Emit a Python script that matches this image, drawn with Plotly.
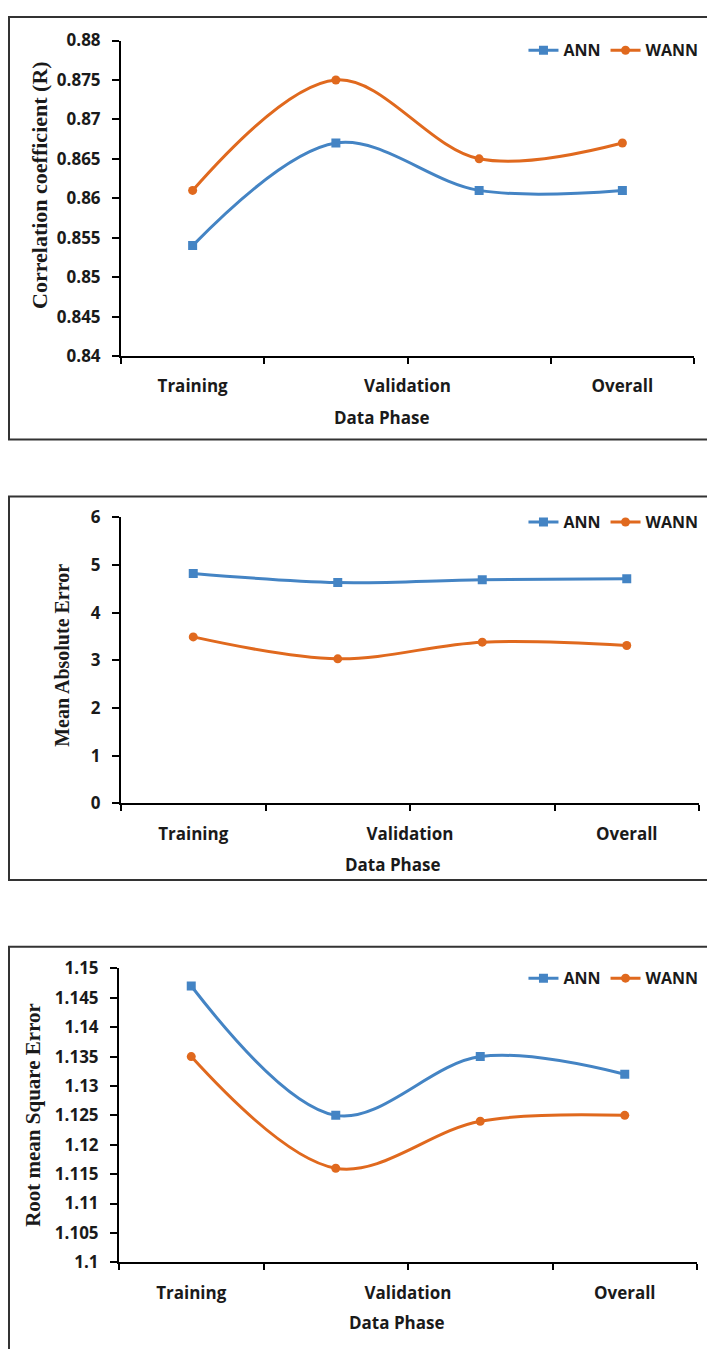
import plotly.graph_objects as go

W, H = 707, 1349

phases_x = [1, 2, 3, 4]
tick_pos = [1, 2.5, 4]
tick_labels = ["Training", "Validation", "Overall"]
boundary_ticks = [0.5, 1.5, 2.5, 3.5, 4.5]

r_ann = [0.854, 0.867, 0.861, 0.861]
r_wann = [0.861, 0.875, 0.865, 0.867]

mae_ann = [4.82, 4.63, 4.69, 4.71]
mae_wann = [3.49, 3.03, 3.38, 3.31]

rmse_ann = [1.147, 1.125, 1.135, 1.132]
rmse_wann = [1.135, 1.116, 1.124, 1.125]

BLUE = "#4484C4"
ORANGE = "#E0691E"
INK = "#1a1a1a"

def px_x(v):
    return v / W

def px_y(v):
    return 1 - v / H

panels = [
    dict(ann=r_ann, wann=r_wann, yrange=[0.84, 0.88], dtick=0.005, fmt=".3~f",
         xdom=[121, 694], ydom=[350, 29], box=[5, 435], leg_y=39,
         ytitle="Correlation coefficient (R)", ytitle_xy=(40, 176), ytitle_size=22,
         xtitle_xy=(382, 413)),
    dict(ann=mae_ann, wann=mae_wann, yrange=[0, 6], dtick=1, fmt="d",
         xdom=[121, 699], ydom=[805, 514], box=[493, 883], leg_y=519,
         ytitle="Mean Absolute Error", ytitle_xy=(62, 655), ytitle_size=20,
         xtitle_xy=(393, 867)),
    dict(ann=rmse_ann, wann=rmse_wann, yrange=[1.1, 1.15], dtick=0.005, fmt=".3~f",
         xdom=[119, 697], ydom=[1272, 973], box=[951, 1365], leg_y=983,
         ytitle="Root mean Square Error", ytitle_xy=(33, 1122), ytitle_size=21,
         xtitle_xy=(397, 1333)),
]

fig = go.Figure()
layout = dict(width=W, height=H, margin=dict(l=0, r=0, t=0, b=0),
              paper_bgcolor="white", plot_bgcolor="white", showlegend=True)
shapes = []
annotations = []
tickfont = dict(family="Open Sans", size=17, color=INK, weight="bold")

for i, p in enumerate(panels):
    n = "" if i == 0 else str(i + 1)
    xa, ya = "x" + n, "y" + n
    leg = "legend" + n
    fig.add_trace(go.Scatter(
        x=phases_x, y=p["ann"], name="ANN", mode="lines+markers",
        line=dict(color=BLUE, width=3, shape="spline"),
        marker=dict(symbol="square", size=9, color=BLUE),
        xaxis=xa, yaxis=ya, legend=leg))
    fig.add_trace(go.Scatter(
        x=phases_x, y=p["wann"], name="WANN", mode="lines+markers",
        line=dict(color=ORANGE, width=3, shape="spline"),
        marker=dict(symbol="circle", size=9, color=ORANGE),
        xaxis=xa, yaxis=ya, legend=leg))
    layout["xaxis" + n] = dict(
        domain=[px_x(p["xdom"][0]), px_x(p["xdom"][1])], anchor=ya,
        range=[0.5, 4.5], tickvals=tick_pos, ticktext=tick_labels,
        ticks="", ticklabelstandoff=14, tickfont=tickfont,
        showline=True, linecolor="black", linewidth=2, showgrid=False, zeroline=False,
        minor=dict(tickvals=boundary_ticks, ticks="outside", ticklen=6,
                   tickcolor="black", tickwidth=2, showgrid=False),
        fixedrange=True)
    layout["yaxis" + n] = dict(
        domain=[px_y(p["ydom"][0]), px_y(p["ydom"][1])], anchor=xa,
        range=p["yrange"], dtick=p["dtick"], tick0=p["yrange"][0], tickformat=p["fmt"],
        ticks="outside", ticklen=7, tickwidth=2, tickcolor="black",
        ticklabelstandoff=8, tickfont=tickfont,
        showline=True, linecolor="black", linewidth=2, showgrid=False, zeroline=False,
        fixedrange=True)
    layout[leg] = dict(orientation="h", x=0.995, xanchor="right",
                       y=px_y(p["leg_y"]), yanchor="middle",
                       font=dict(family="Open Sans", size=16, color=INK, weight="bold"),
                       bgcolor="rgba(0,0,0,0)", itemclick=False, itemdoubleclick=False)
    shapes.append(dict(type="rect", xref="paper", yref="paper",
                       x0=px_x(9), x1=px_x(730), y0=px_y(p["box"][1]), y1=px_y(p["box"][0]),
                       line=dict(color="#333333", width=2), fillcolor="rgba(0,0,0,0)"))
    tx, ty = p["ytitle_xy"]
    annotations.append(dict(text="<b>" + p["ytitle"] + "</b>", xref="paper", yref="paper",
                            x=px_x(tx), y=px_y(ty), xanchor="center", yanchor="middle",
                            textangle=-90, showarrow=False,
                            font=dict(family="Liberation Serif", size=p["ytitle_size"], color=INK)))
    dx, dy = p["xtitle_xy"]
    annotations.append(dict(text="<b>Data Phase</b>", xref="paper", yref="paper",
                            x=px_x(dx), y=px_y(dy), xanchor="center", yanchor="middle",
                            showarrow=False,
                            font=dict(family="Open Sans", size=17, color=INK)))

layout["shapes"] = shapes
layout["annotations"] = annotations
fig.update_layout(**layout)

fig.write_html("out.html", config={"displayModeBar": False},
               post_script="document.body.style.margin='0';document.body.style.overflow='hidden';")
